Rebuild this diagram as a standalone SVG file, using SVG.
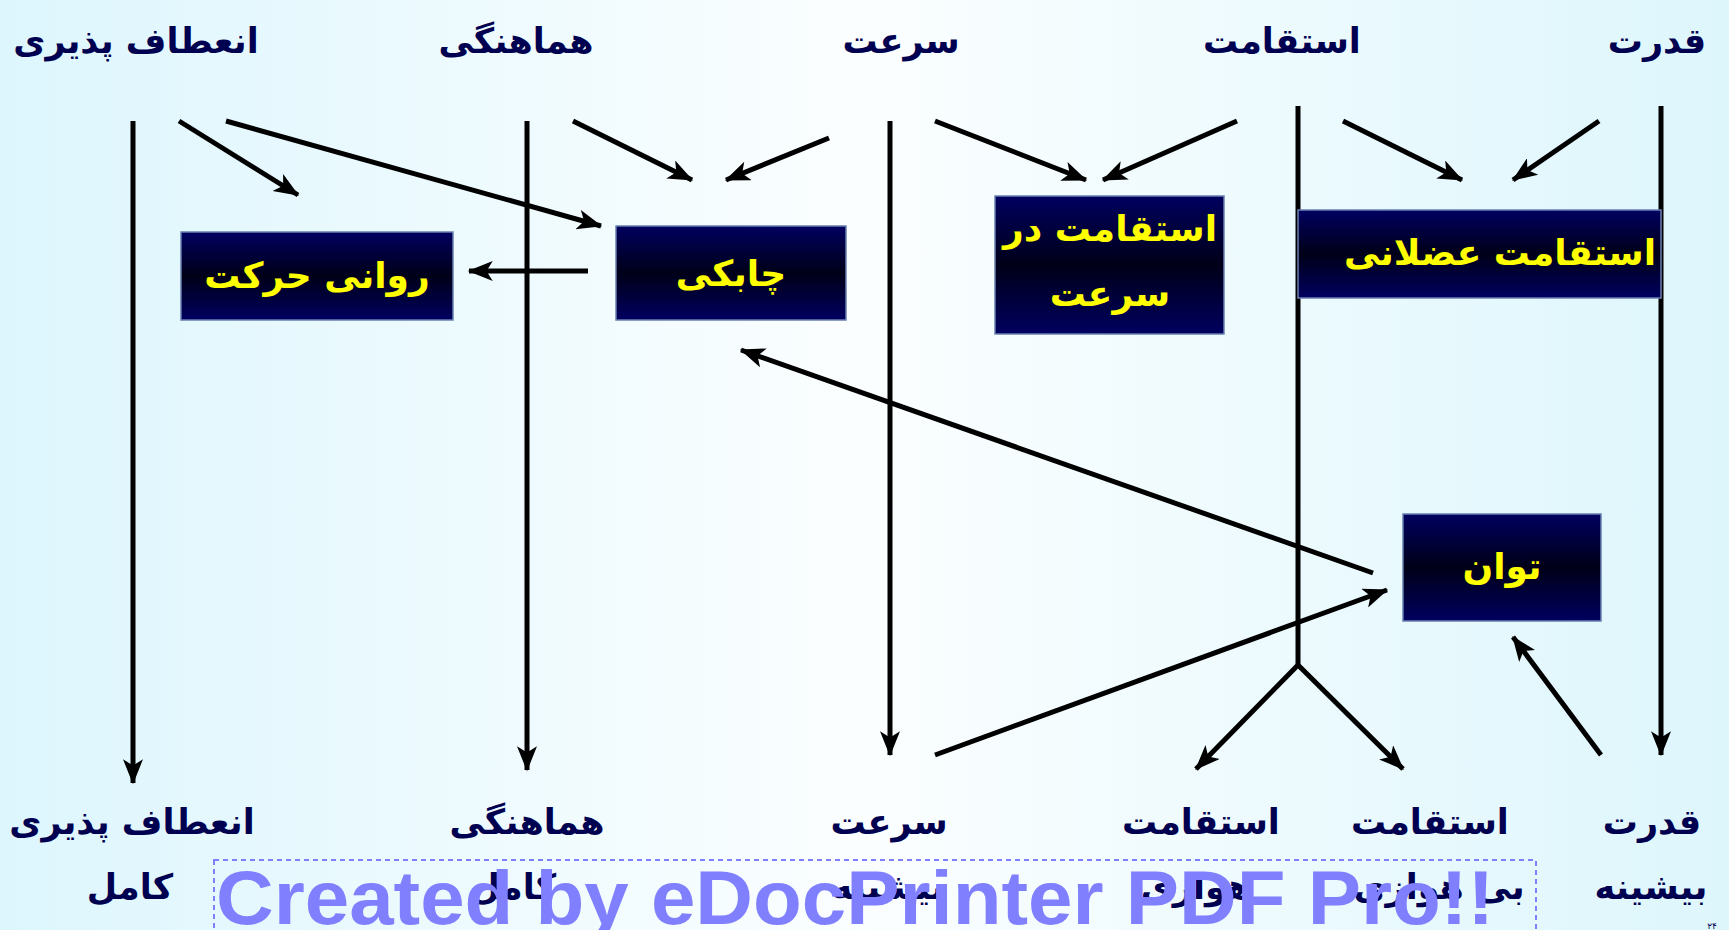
<svg xmlns="http://www.w3.org/2000/svg" width="1729" height="930" viewBox="0 0 1729 930">
<defs>
<linearGradient id="bg" x1="0" y1="0" x2="1" y2="0">
<stop offset="0" stop-color="#ddf6fd"/>
<stop offset="0.5" stop-color="#fbfeff"/>
<stop offset="1" stop-color="#ddf6fc"/>
</linearGradient>
<linearGradient id="boxg" x1="0" y1="0" x2="0" y2="1">
<stop offset="0" stop-color="#000060"/>
<stop offset="0.5" stop-color="#000018"/>
<stop offset="1" stop-color="#000060"/>
</linearGradient>
<marker id="ah" viewBox="0 0 20 16" refX="19" refY="8" markerWidth="26" markerHeight="20" markerUnits="userSpaceOnUse" orient="auto">
<path d="M0,0 L20,8 L0,16 L5,8 z" fill="#000"/>
</marker>
<style>
.lbl{font-family:"DejaVu Sans",sans-serif;font-weight:bold;font-size:35px;fill:#000050;text-anchor:middle}
.box{fill:url(#boxg);stroke:#6a7fb0;stroke-width:1.5}
.bt{font-family:"DejaVu Sans",sans-serif;font-weight:bold;font-size:36px;fill:#ffff00;text-anchor:middle}
.ln{stroke:#000;stroke-width:5;fill:none}
.ar{stroke:#000;stroke-width:5;fill:none;marker-end:url(#ah)}
.wm{font-family:"Liberation Sans",Arial,sans-serif;font-weight:bold;font-size:76px;fill:#8080ff}
</style>
</defs>
<rect x="0" y="0" width="1729" height="930" fill="url(#bg)"/>

<g id="top-labels">
<text class="lbl" x="136" y="53">انعطاف پذیری</text>
<text class="lbl" x="516" y="53">هماهنگی</text>
<text class="lbl" x="901" y="53">سرعت</text>
<text class="lbl" x="1282" y="53">استقامت</text>
<text class="lbl" x="1657" y="53">قدرت</text>
</g>

<g id="connectors">
<line class="ar" x1="133" y1="121" x2="133" y2="783"/>
<line class="ar" x1="527" y1="121" x2="527" y2="770"/>
<line class="ar" x1="890" y1="121" x2="890" y2="755"/>
<line class="ln" x1="1298" y1="106" x2="1298" y2="665"/>
<line class="ar" x1="1298" y1="665" x2="1196" y2="769"/>
<line class="ar" x1="1298" y1="665" x2="1403" y2="769"/>
<line class="ar" x1="1661" y1="106" x2="1661" y2="755"/>
<line class="ar" x1="179" y1="121" x2="298" y2="195"/>
<line class="ar" x1="226" y1="121" x2="601" y2="226"/>
<line class="ar" x1="573" y1="121" x2="692" y2="180"/>
<line class="ar" x1="829" y1="138" x2="726" y2="180"/>
<line class="ar" x1="935" y1="121" x2="1086" y2="180"/>
<line class="ar" x1="1237" y1="121" x2="1103" y2="180"/>
<line class="ar" x1="1343" y1="121" x2="1462" y2="180"/>
<line class="ar" x1="1599" y1="121" x2="1513" y2="180"/>
<line class="ar" x1="588" y1="271" x2="469" y2="271"/>
<line class="ar" x1="1373" y1="573" x2="741" y2="350"/>
<line class="ar" x1="935" y1="755" x2="1387" y2="590"/>
<line class="ar" x1="1601" y1="755" x2="1513" y2="637"/>
</g>

<g id="node-ravani">
<rect class="box" x="181" y="232" width="272" height="88"/>
<text class="bt" x="317" y="288">روانی حرکت</text>
</g>
<g id="node-chaboki">
<rect class="box" x="616" y="226" width="230" height="94"/>
<text class="bt" x="731" y="286">چابکی</text>
</g>
<g id="node-esteghamat-sorat">
<rect class="box" x="995" y="196" width="229" height="138"/>
<text class="bt" x="1110" y="241">استقامت در</text>
<text class="bt" x="1110" y="306">سرعت</text>
</g>
<g id="node-esteghamat-azolani">
<rect class="box" x="1298" y="210" width="363" height="88"/>
<text class="bt" x="1500" y="265">استقامت عضلانی</text>
</g>
<g id="node-tavan">
<rect class="box" x="1403" y="514" width="198" height="107"/>
<text class="bt" x="1502" y="579">توان</text>
</g>

<g id="bottom-labels">
<text class="lbl" x="132" y="834">انعطاف پذیری</text>
<text class="lbl" x="130" y="899">کامل</text>
<text class="lbl" x="527" y="834">هماهنگی</text>
<text class="lbl" x="513" y="899">کامل</text>
<text class="lbl" x="889" y="834">سرعت</text>
<text class="lbl" x="888" y="899">بیشینه</text>
<text class="lbl" x="1201" y="834">استقامت</text>
<text class="lbl" x="1196" y="899">هوازی</text>
<text class="lbl" x="1430" y="834">استقامت</text>
<text class="lbl" x="1439" y="899">بی هوازی</text>
<text class="lbl" x="1652" y="834">قدرت</text>
<text class="lbl" x="1651" y="899">بیشینه</text>
<text x="1712" y="929" font-family="DejaVu Sans,sans-serif" font-size="9" fill="#000050" text-anchor="middle">۲۴</text>
</g>

<g id="watermark">
<rect x="214" y="860" width="1322" height="80" fill="none" stroke="#8080ff" stroke-width="2" stroke-dasharray="5,4"/>
<text class="wm" x="216" y="924" textLength="1278" lengthAdjust="spacingAndGlyphs">Created by eDocPrinter PDF Pro!!</text>
</g>
</svg>
